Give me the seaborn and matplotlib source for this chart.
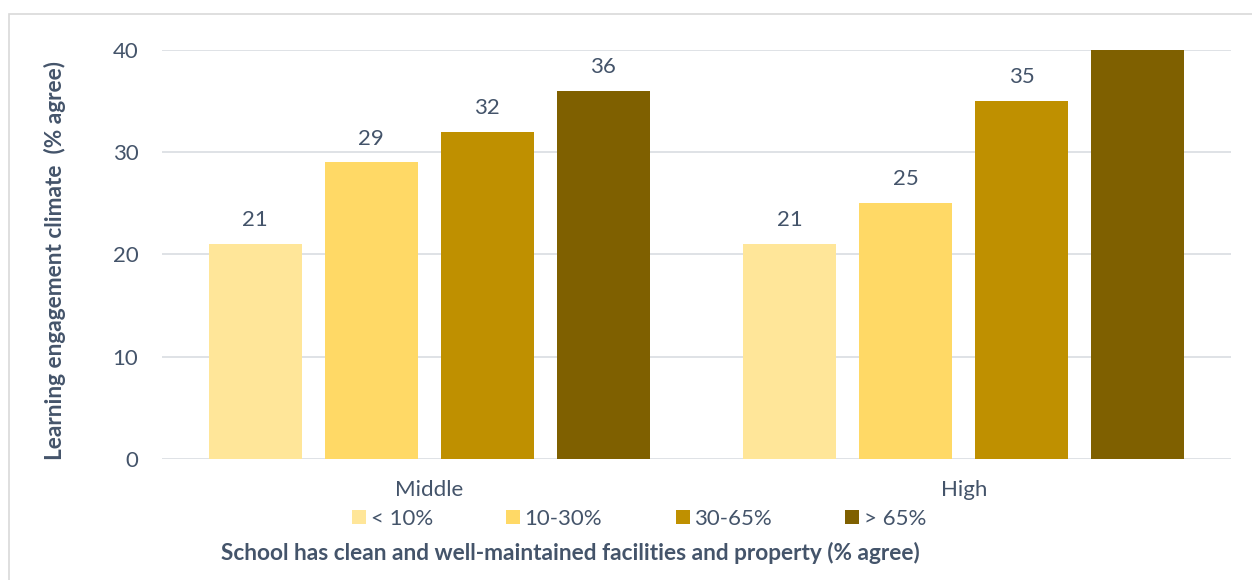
import matplotlib
matplotlib.use("Agg")
import matplotlib.pyplot as plt
from matplotlib.patches import Rectangle
import pandas as pd
import seaborn as sns

# School level on the category axis
levels = ["Middle", "High"]
# Share agreeing the school has clean, well-maintained facilities
groups = ["< 10%", "10-30%", "30-65%", "> 65%"]
# Learning engagement climate (% agree), one list per school level
middle_values = [21, 29, 32, 36]
high_values = [21, 25, 35, 41]
y_ticks = [0, 10, 20, 30, 40]

palette = ["#FFE699", "#FFD966", "#BF9000", "#7F6000"]
text_color = "#44546A"
grid_color = "#DCDFE4"
fs = 16
fs_title = 16.3

df = pd.DataFrame({
    "level": [lv for lv in levels for _ in groups],
    "group": groups * len(levels),
    "value": middle_values + high_values,
})

sns.set_theme(style="white")
plt.rcParams["font.family"] = ["Lato", "DejaVu Sans"]

fig = plt.figure(figsize=(12.52, 5.80), dpi=100)
ax = fig.add_axes([162 / 1252, 1 - 459 / 580, (1231 - 162) / 1252, (459 - 50) / 580])

sns.barplot(
    data=df, x="level", y="value", hue="group", order=levels, hue_order=groups,
    palette=palette, saturation=1, width=0.868, gap=0.2, ax=ax, legend=True,
    linewidth=0, zorder=3,
)

ax.set_ylim(0, 40)
ax.set_xlim(-0.5, 1.5)
ax.set_yticks(y_ticks)
ax.grid(axis="y", color=grid_color, linewidth=1.3, zorder=0)
ax.set_axisbelow(True)
for s in ax.spines.values():
    s.set_visible(False)

ax.tick_params(axis="y", length=0, pad=17, labelsize=fs, labelcolor=text_color)
ax.tick_params(axis="x", length=0, pad=15, labelsize=fs, labelcolor=text_color)

# value labels above bars (labels beyond the axis top are not drawn)
for cont in ax.containers:
    ax.bar_label(cont, fmt="%d", padding=10, fontsize=fs, color=text_color)

ax.set_ylabel("Learning engagement climate  (% agree)", fontsize=fs_title,
              fontweight="bold", color=text_color)
ax.yaxis.set_label_coords((55 - 162) / 1069, (459 - 261) / 409)
ax.yaxis.label.set_va("center")

ax.set_xlabel("School has clean and well-maintained facilities and property (% agree)",
              fontsize=fs_title, fontweight="bold", color=text_color)
ax.xaxis.set_label_coords((570 - 162) / 1069, -(553 - 459) / 409)
ax.xaxis.label.set_va("center")

handles, labels = ax.get_legend_handles_labels()
ax.get_legend().remove()
fig.legend(
    handles, labels, loc="center", bbox_to_anchor=(639 / 1252, 1 - 519 / 580),
    ncol=4, frameon=False, fontsize=fs, labelcolor=text_color,
    handlelength=0.63, handleheight=0.63, handletextpad=0.2, columnspacing=3.3,
    borderaxespad=0, borderpad=0,
)

# light outer frame of the chart area
fig.patches.append(Rectangle((9 / 1252, -0.1), 1.2, 1 - 14 / 580 + 0.1,
                             transform=fig.transFigure, fill=False,
                             edgecolor="#D9D9D9", linewidth=1.2))

fig.savefig("out.png", dpi=100, facecolor="white")
